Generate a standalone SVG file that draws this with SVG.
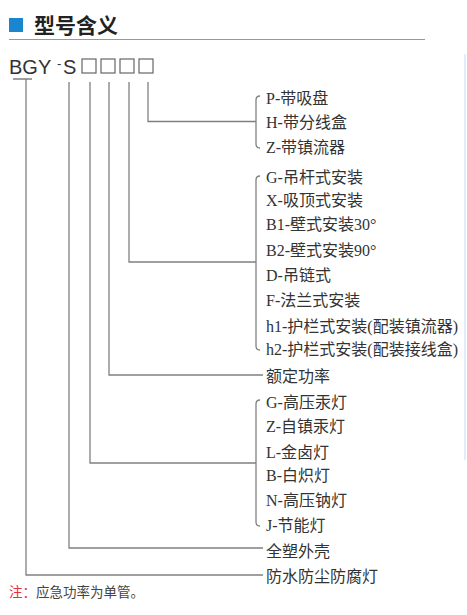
<svg xmlns="http://www.w3.org/2000/svg" width="467" height="615" viewBox="0 0 467 615">
<style>
.lbl{font-family:"Liberation Serif","Noto Sans CJK SC",serif;font-size:16px;fill:#333}
.code{font-family:"Liberation Sans",Arial,sans-serif;font-size:20px;fill:#333}
.ln{fill:none;stroke:#808080;stroke-width:1.3}
.box{fill:none;stroke:#666;stroke-width:1.2}
</style>
<rect x="0" y="0" width="467" height="615" fill="#ffffff"/>
<g id="header">
<rect x="9" y="18" width="14" height="14" fill="#1a86d0"/>
<text x="34" y="33" style="font-family:'Noto Sans CJK SC',sans-serif;font-size:21px;font-weight:bold;fill:#222">型号含义</text>
<line x1="9" y1="39.5" x2="425" y2="39.5" stroke="#999" stroke-width="1"/>
<line x1="465" y1="54" x2="465" y2="460" stroke="#e2edfb" stroke-width="2"/>
</g>
<g id="code">
<text class="code" x="9" y="74">BGY</text>
<text class="code" x="57" y="68" style="font-size:13px">-</text>
<text class="code" x="63" y="74">S</text>
<rect class="box" x="82" y="59" width="14" height="14"/>
<rect class="box" x="101" y="59" width="14" height="14"/>
<rect class="box" x="120" y="59" width="14" height="14"/>
<rect class="box" x="139" y="59" width="14" height="14"/>
</g>
<g id="connectors">
<path class="ln" d="M13,79 H32 M26,79 V575 H263"/>
<path class="ln" d="M69,82 V548 H263"/>
<path class="ln" d="M90,82 V463 H256"/>
<path class="ln" d="M109,82 V375 H263"/>
<path class="ln" d="M129,82 V262 H256"/>
<path class="ln" d="M148,82 V121.5 H256"/>
<path class="ln" d="M260,96 Q256,96 256,100 V144 Q256,148 260,148"/>
<path class="ln" d="M260,176 Q256,176 256,180 V346 Q256,350 260,350"/>
<path class="ln" d="M260,400 Q256,400 256,404 V522 Q256,526 260,526"/>
</g>
<g id="group-p">
<text class="lbl" x="266" y="104">P-带吸盘</text>
<text class="lbl" x="266" y="128">H-带分线盒</text>
<text class="lbl" x="266" y="153">Z-带镇流器</text>
</g>
<g id="group-install">
<text class="lbl" x="266" y="183">G-吊杆式安装</text>
<text class="lbl" x="266" y="206">X-吸顶式安装</text>
<text class="lbl" x="266" y="230">B1-壁式安装30°</text>
<text class="lbl" x="266" y="256">B2-壁式安装90°</text>
<text class="lbl" x="266" y="281">D-吊链式</text>
<text class="lbl" x="266" y="306">F-法兰式安装</text>
<text class="lbl" x="266" y="332">h1-护栏式安装(配装镇流器)</text>
<text class="lbl" x="266" y="355">h2-护栏式安装(配装接线盒)</text>
</g>
<g id="power">
<text class="lbl" x="266" y="382">额定功率</text>
</g>
<g id="group-lamp">
<text class="lbl" x="266" y="408">G-高压汞灯</text>
<text class="lbl" x="266" y="432">Z-自镇汞灯</text>
<text class="lbl" x="266" y="458">L-金卤灯</text>
<text class="lbl" x="266" y="481">B-白炽灯</text>
<text class="lbl" x="266" y="506">N-高压钠灯</text>
<text class="lbl" x="266" y="531">J-节能灯</text>
</g>
<g id="shell">
<text class="lbl" x="266" y="557">全塑外壳</text>
</g>
<g id="type">
<text class="lbl" x="266" y="582">防水防尘防腐灯</text>
</g>
<g id="note">
<text x="9" y="597" style="font-family:'Noto Sans CJK SC',sans-serif;font-size:13.5px;fill:#444"><tspan fill="#e0343a">注：</tspan>应急功率为单管。</text>
</g>
</svg>
